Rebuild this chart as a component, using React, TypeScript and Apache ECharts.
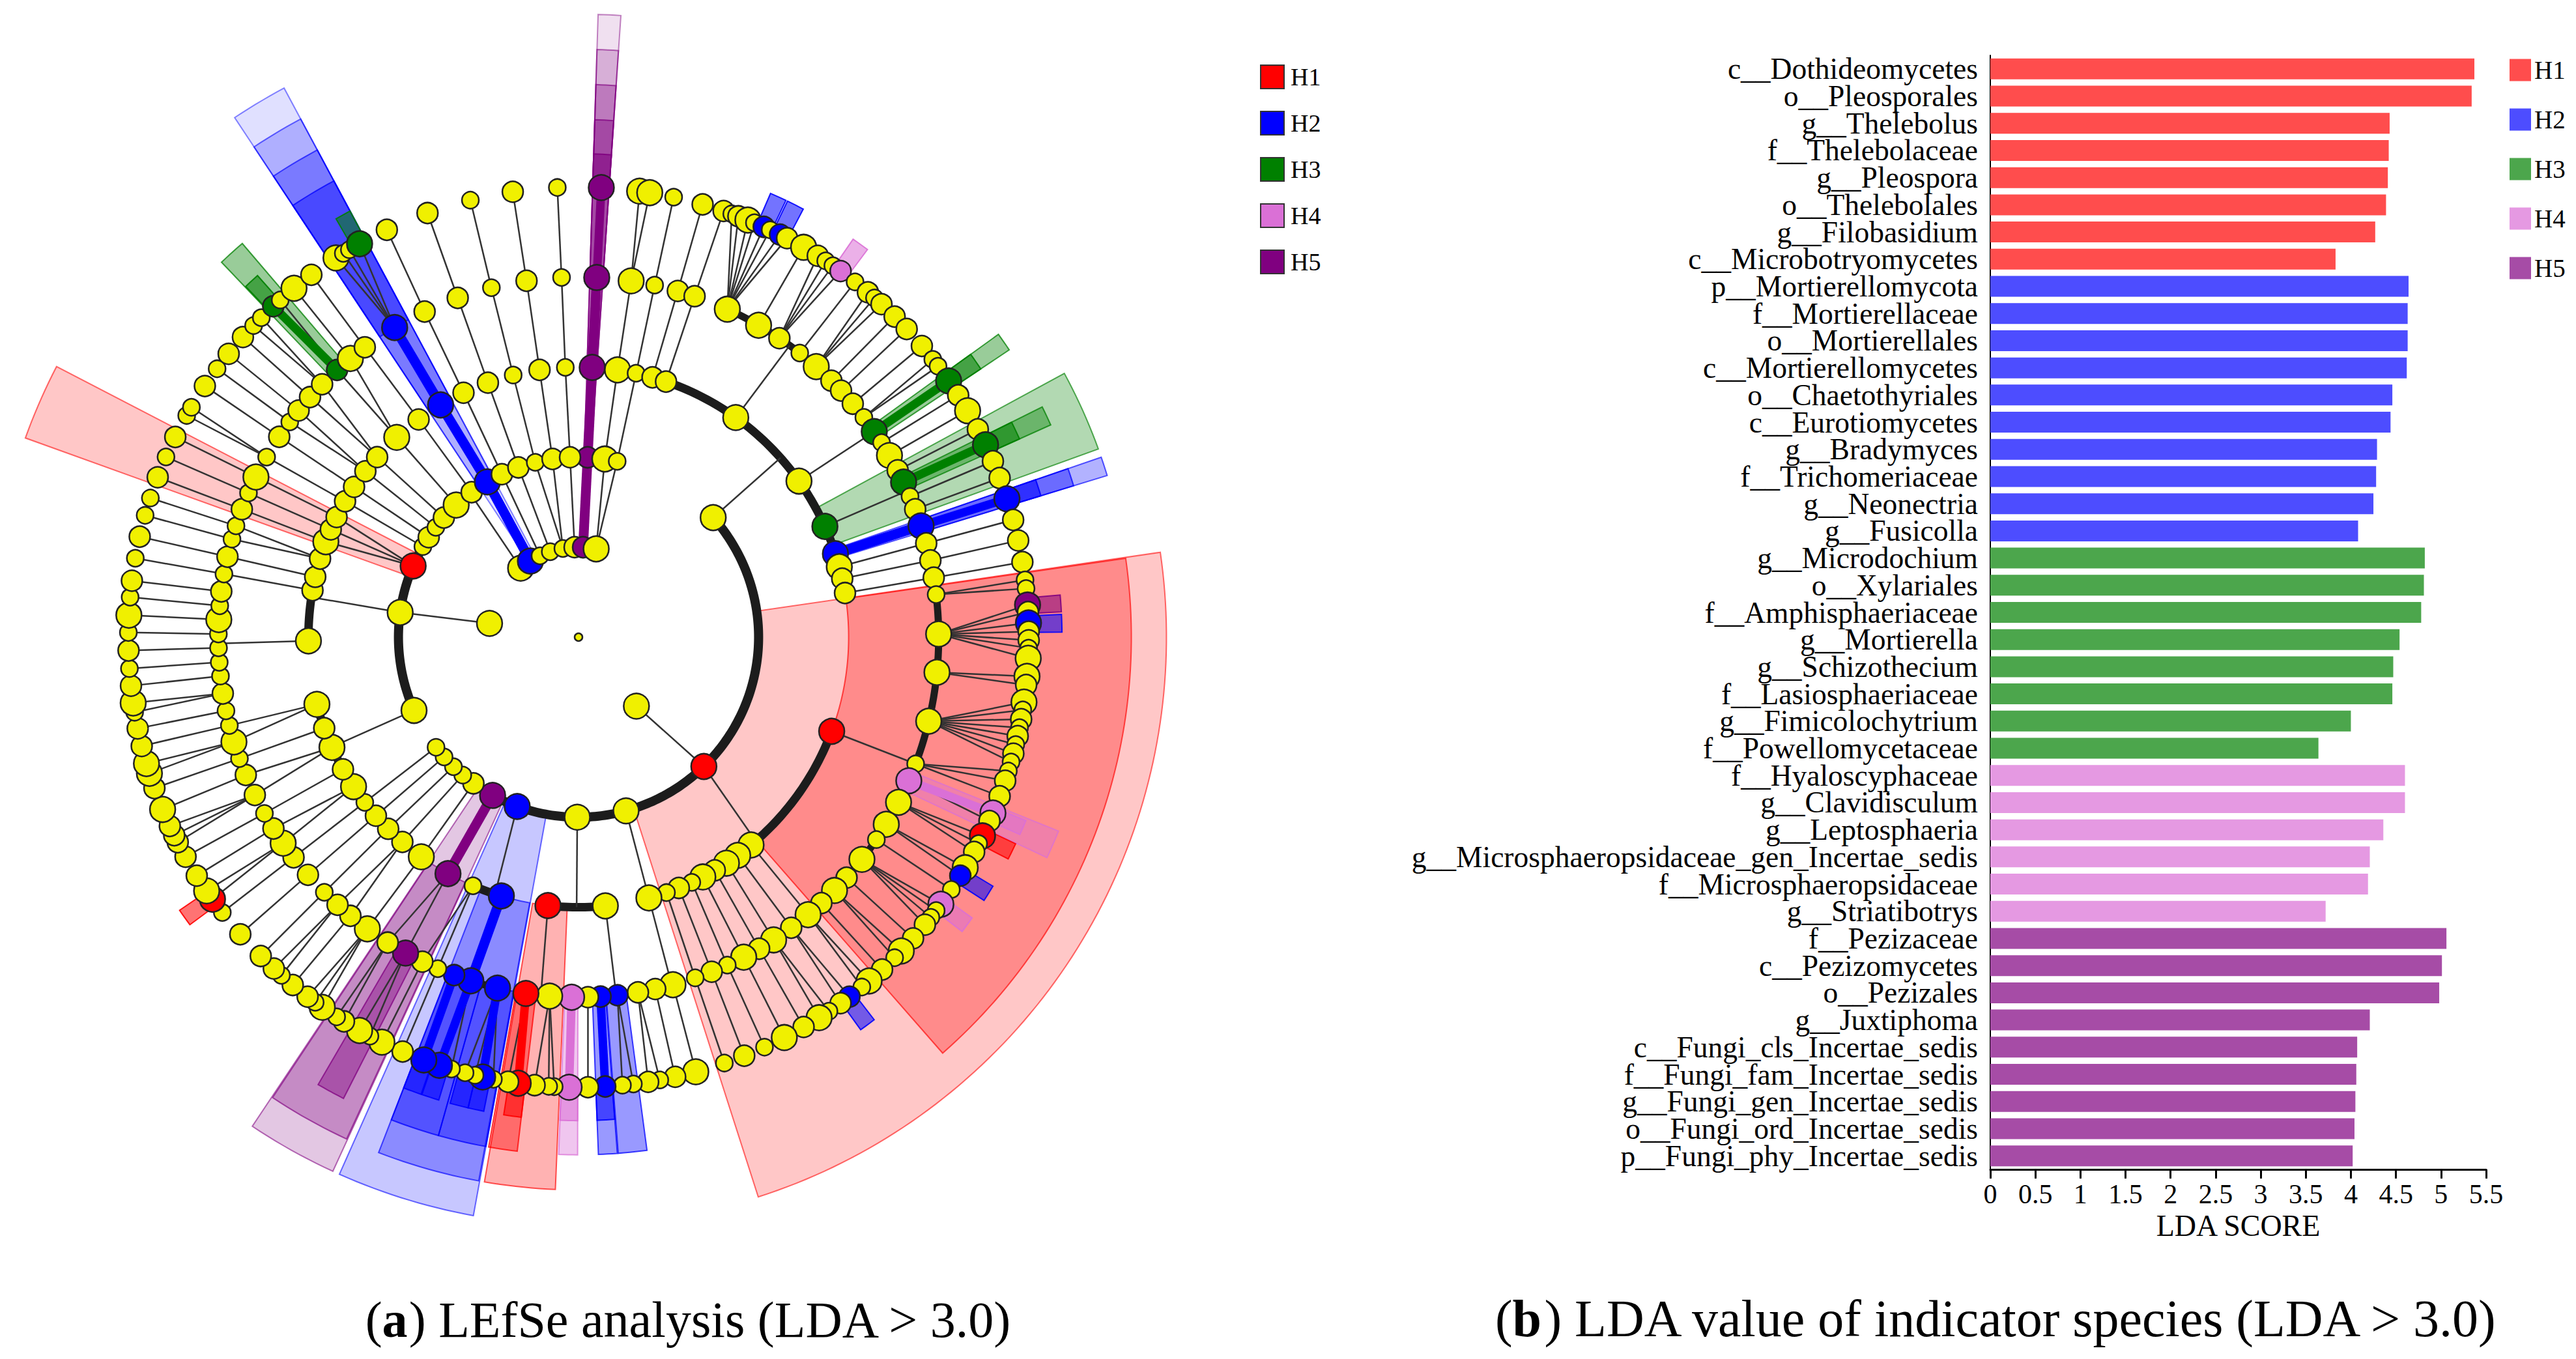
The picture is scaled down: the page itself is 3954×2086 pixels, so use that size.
import React, { useEffect, useRef } from "react";
import * as echarts from "echarts";

// ---------- Bar chart data ----------
const h1Labels = ["c__Dothideomycetes","o__Pleosporales","g__Thelebolus","f__Thelebolaceae","g__Pleospora","o__Thelebolales","g__Filobasidium","c__Microbotryomycetes"];
const h1Values = [5.37,5.34,4.43,4.42,4.41,4.39,4.27,3.83];
const h2Labels = ["p__Mortierellomycota","f__Mortierellaceae","o__Mortierellales","c__Mortierellomycetes","o__Chaetothyriales","c__Eurotiomycetes","g__Bradymyces","f__Trichomeriaceae","g__Neonectria","g__Fusicolla"];
const h2Values = [4.64,4.63,4.63,4.62,4.46,4.44,4.29,4.28,4.25,4.08];
const h3Labels = ["g__Microdochium","o__Xylariales","f__Amphisphaeriaceae","g__Mortierella","g__Schizothecium","f__Lasiosphaeriaceae","g__Fimicolochytrium","f__Powellomycetaceae"];
const h3Values = [4.82,4.81,4.78,4.54,4.47,4.46,4.0,3.64];
const h4Labels = ["f__Hyaloscyphaceae","g__Clavidisculum","g__Leptosphaeria","g__Microsphaeropsidaceae_gen_Incertae_sedis","f__Microsphaeropsidaceae","g__Striatibotrys"];
const h4Values = [4.6,4.6,4.36,4.21,4.19,3.72];
const h5Labels = ["f__Pezizaceae","c__Pezizomycetes","o__Pezizales","g__Juxtiphoma","c__Fungi_cls_Incertae_sedis","f__Fungi_fam_Incertae_sedis","g__Fungi_gen_Incertae_sedis","o__Fungi_ord_Incertae_sedis","p__Fungi_phy_Incertae_sedis"];
const h5Values = [5.06,5.01,4.98,4.21,4.07,4.06,4.05,4.04,4.02];
const groupNames = ["H1","H2","H3","H4","H5"];

// ---------- Cladogram data: [angle clockwise from north, abundance class, group (0 = none), optional parent angle] ----------
const rootNode = [[0, 0, 0]];
const ring1 = [[320,3],[327.7,3,2],[334.7,1],[341.7,1],[350,1],[357.5,2],[2.9,2,5],[11.3,3],[140,3],[278.8,3]];
const ring2 = [[2.9,2,5],[8.4,3],[12.4,1],[48.4,3],[135.9,3,1],[164.7,3],[180.4,3],[199.9,3,2],[208.5,3,5],[215.7,2],[220,1],[224,1],[228.3,1],[232.3,1],[246,3],[277.9,3],[293.3,3,1],[300.2,1],[303.7,2],[307.6,1],[311.6,2],[317.2,3],[323.6,2],[329.6,3,2],[334.8,2],[340.5,2],[346.1,1],[351.7,2],[357.3,2]];
const ring3 = [[2.9,3,5],[8.3,3],[12.3,1],[15.9,2],[18.9,2],[35.6,3],[54.7,3],[65.8,3,3],[72,3,2],[74.9,3],[77.5,2],[80.6,2],[110.4,3,1],[140.3,3],[143.9,3],[146.8,3],[149.7,2],[152.6,3],[155.2,1],[158.2,2],[161,1],[164.9,3],[174.3,3],[186.5,3,1],[196.6,3,2],[203,1],[208.9,3,5],[215.6,3],[220.7,2],[224.8,2],[228.6,2],[232.3,1],[236.4,3],[240.7,2],[245.9,3],[250.3,2],[255.6,3],[269.2,3],[280,2],[282.9,2],[286.9,2],[290.7,3],[293.5,2],[296.4,2],[300.2,2],[303.8,2],[307.9,2],[311.8,2],[317.7,3],[323.7,2],[329.3,3,2],[334.8,2],[340.4,2],[346,1],[351.7,2],[357.2,1]];
const ring4 = [[2.9,3,5],[8.4,3],[12.2,1],[16,2],[18.8,2],[24.4,3],[30,3],[33.9,2],[37.9,1],[41.3,3],[44.6,2],[46.8,2],[49.6,2],[52.4,1],[55.2,3,3],[57.3,1],[59.7,3],[62.4,2],[64.5,3,3],[67,1],[69.2,2],[72,3,2],[74.9,2],[77.7,2],[80.5,2],[83.2,1],[89.5,3],[95.6,3],[103.5,3],[110.6,1],[113.5,3,4],[117.3,3],[121.3,3],[124.2,1],[128.1,3],[131.9,2],[134.7,3],[137.6,2],[140.4,3],[143.8,2],[147.2,3],[149.9,2],[152.7,3],[155.6,1],[158.3,2],[161.1,1],[164.8,3],[167.7,2],[170.5,2],[173.8,2,2],[176.5,2,2],[178.5,2],[181.1,3,4],[184.6,3],[188.4,3,1],[193,3,2],[197.4,3,2],[200.2,2,2],[203,1],[205.7,2],[208.7,3,5],[212,2],[215.9,3],[219.3,2],[222,2],[224.9,1],[228.7,2],[232.3,2],[235.1,3],[237.9,2],[240.7,1],[244,2],[247.5,2],[250.3,1],[253.1,3],[255.8,1],[258.2,1],[261,2],[263.8,1],[266,1],[268.3,1],[270.5,1],[272.8,3],[275,1],[277.3,2],[280.1,1],[282.9,2],[285.8,1],[288,1],[290.8,2],[293.6,1],[296.4,3],[300,1],[303.8,2],[306.7,1],[309,2],[311.8,2],[314.6,2],[317.9,2,3],[320.7,3],[323.6,2],[329.3,3,2],[334.7,2],[340.4,2],[346,1],[351.7,2],[357.3,1]];
const ring5 = [[2.9,3,5],[7.8,3],[9.1,3],[12.2,1],[16,2],[18.8,2],[19.9,1,0,24.4],[20.8,2,0,24.4],[22.1,3,0,24.4],[23,1],[24.3,2,2],[25.2,1],[26.6,2,2],[27.6,2,0,24.4],[30,3],[32.1,2],[33.3,1],[34.4,1],[35.6,2,4],[37.9,1],[40,2],[41.1,1],[42.3,2],[44.6,2],[46.8,2],[49.7,2],[51.9,1],[53,1],[55.3,3,3],[57.5,2],[59.8,3],[62.5,2],[64.7,3,3],[67,2],[69.3,2],[72.1,3,2],[74.9,2],[77.6,2],[80.4,2],[82.7,1],[83.8,1],[85.9,3,5,89.5],[86.8,2],[88.2,3,2],[89.3,2],[90.4,2],[91.4,1],[92.7,3,0,89.5],[95,3],[96.1,2],[98.3,3,0,103.5],[99.3,1,0,103.5],[100.5,2],[101.6,1],[102.7,2],[103.8,1],[105,2],[106.1,1],[107.3,1],[108.6,2],[110.7,2],[113,3,4],[114.1,2],[116.2,3,1],[117.3,1],[118.5,2],[120.8,3],[122,2,2],[124.1,1],[126.4,3,4],[127.4,1],[128.5,1],[129.7,2],[132,2],[134.2,3],[135.4,1],[137.6,2],[139.8,3],[141,1],[143,2,2],[144.4,2],[146.2,1],[147.7,3],[150,2],[152.8,3],[155.6,1],[158.4,2],[161.1,1],[164.9,3],[167.6,2],[169.6,1],[171.1,2],[173,1],[174.4,1],[176.6,2,2],[178.8,2],[181.2,3,4],[183.1,1],[183.8,1],[185.6,2],[187.7,3,1],[189,2],[190.9,1],[192.3,3,2],[193.3,1],[194.6,1],[196.4,1],[198,3,2],[200.1,3,2],[203,2],[205.9,3],[207.6,1],[209.1,3],[211.4,2],[212.5,1],[214.7,3],[215.8,1],[217,2],[219.4,2],[221.3,1],[222.6,2],[224.9,2],[228.7,2],[232.3,1],[234.4,3,1],[235.7,3],[238,2],[240.8,2],[242.9,2],[243.9,2],[245.2,2],[247.5,3],[250.4,2],[252.4,3],[253.7,3],[256,2],[258.3,2],[260.4,1],[261.6,3],[263.8,2],[266,1],[268.3,2],[270.6,1],[272.8,3],[275.1,1],[277.2,2],[280.1,1],[282.9,2],[285.7,1],[288,1],[290.8,2],[293.6,1],[296.4,2],[299.5,1],[300.7,1],[303.9,2],[306.6,1],[309,2],[311.8,2],[313.8,1],[315.2,1],[317.3,2,3],[318.5,1],[320.8,3],[323.6,2],[327.4,3],[328.5,1],[329.4,1],[330.9,3,3],[334.8,2],[340.4,2],[346.1,1],[351.6,2],[357.3,1]];
const rings = [rootNode, ring1, ring2, ring3, ring4, ring5];

// Sibling arcs: [ring, from angle, to angle, parent angle (ring-1), angle where the parent's branch meets the arc]
const cladeArcs = [
  [2,48.4,232.3,140,135.9],[2,246,293.3,278.8,277.9],[2,293.3,323.6,320,323],
  [3,15.9,81,48.4,48.4],[3,110.4,161,135.9,139],[3,174.3,186.5,180.4,180.4],[3,196.6,203,199.9,198],[3,236.4,255.6,246,246],[3,269.2,286.9,277.9,278.5],
  [4,24.4,52.4,35.6,35.9],[4,55.2,62.4,54.7,55.2],[4,64.5,69.2,65.8,66],[4,83.2,137.6,110.4,110.6],[4,164.8,167.7,164.9,165],[4,170.5,176.5,174.3,174],[4,178.5,188.4,186.5,186],[4,193,200.2,196.6,197.4],[4,258.2,277.3,269.2,269],
];
// Biomarker branches: [group, ring, angle, ring, angle]
const markerBranches = [
  [5,1,2.9,2,2.9],[5,2,2.9,3,2.9],[5,3,2.9,4,2.9],[5,4,2.9,5,2.9],
  [2,1,327.7,2,329.6],[2,2,329.6,3,329.3],[2,3,329.3,4,329.3],
  [3,4,317.9,5,317.3],[3,4,55.2,5,55.3],[3,4,64.5,5,64.7],
  [2,3,72,4,72],[2,4,72,5,72.1],[5,2,208.5,3,208.9],
  [2,3,196.6,4,197.4],[2,4,197.4,5,198],[2,4,200.2,5,200.1],[2,4,193,5,192.3],
  [1,4,188.4,5,187.7],[2,4,176.5,5,176.6],[4,4,181.1,5,181.2],[4,4,113.5,5,113],
];
// Highlight wedges: [group, ring of the clade, start angle, end angle]
const cladeWedges = [
  [1,2,81.7,162.2],[1,3,81.8,138.8],[1,2,289.8,297.4],
  [2,1,326.5,331.8],[2,2,326.5,331.8],[2,3,326.5,331.8],[2,4,326.5,331.8],
  [5,1,1.8,3.9],[5,2,1.8,3.9],[5,3,1.8,3.9],[5,4,1.8,3.9],[5,5,1.8,3.9],
  [3,3,61.5,70.1],[3,4,63.6,65.8],[3,5,63.6,65.8],[3,4,54.2,56.3],[3,5,54.2,56.3],
  [2,3,71,73],[2,4,71,73],[2,5,71,73],
  [2,5,23.4,25.4],[2,5,25.6,27.7],[4,5,34.6,36.7],[3,5,329.9,331.8],
  [3,4,316.4,319.5],[3,5,316.5,318.4],
  [5,5,85,87],[2,5,87.3,89.4],[4,4,112,115.2],[4,5,112.3,114.1],[1,5,115.3,117.3],[2,5,121,123],[4,5,125.5,127.5],[2,5,142.3,144.3],[1,5,233.5,235.6],
  [5,2,204.7,213.7],[5,3,204.8,213.6],[5,4,207,210.2],
  [2,2,190.3,204],[2,3,190.4,201.2],[2,4,195.7,201.2],[2,4,190.3,195.7],[2,5,196.8,198.9],[2,5,199,201.2],[2,5,191.3,193.2],[2,5,193.2,195.4],
  [1,3,182.4,189.8],[1,4,186.8,190],[1,5,186.8,188.9],
  [4,4,180.1,182.2],[4,5,180.1,182.2],[2,4,172.4,175.6],[2,4,175.7,177.8],[2,5,175.7,177.8],
];
// Outer reach of a wedge, in ring units, by clade ring (1..5)
const wedgeReach = [6.92, 6.53, 6.14, 5.75, 5.37];

// ---------- Styling ----------
const SERIF = "Liberation Serif";
const UNIT = 138.2;
const CENTER = [888, 978];
const markerRgb = ["240,240,0","255,0,0","0,0,255","0,128,0","218,112,214","128,0,128"];
const wedgeAlpha = [0.12, 0.22, 0.3, 0.4, 0.55];
const nodeSizes = [12, 26, 32, 39];
const barColors = ["#ff4d4d","#4d4dff","#4ca64c","#e599e2","#a64ca6"];
const legendColors = ["#ff0000","#0000ff","#008000","#da70d6","#800080"];

const circDist = (a: number, b: number) => { const d = Math.abs(a - b) % 360; return Math.min(d, 360 - d); };

function buildBranches() {
  const out: number[][] = [];
  for (let lvl = 2; lvl <= 5; lvl++) {
    for (const n of rings[lvl] as number[][]) {
      const inArc = cladeArcs.some((c) => c[0] === lvl && n[0] >= c[1] && n[0] <= c[2]);
      if (inArc) continue;
      let parent = n[3];
      if (parent === undefined) {
        let best = Infinity;
        for (const p of rings[lvl - 1] as number[][]) {
          const d = circDist(p[0], n[0]);
          if (d < best) { best = d; parent = p[0]; }
        }
      }
      out.push([lvl - 1, parent, lvl, n[0]]);
    }
  }
  for (const c of cladeArcs) out.push([c[0] - 1, c[3], c[0], c[4]]);
  return out;
}

function buildOption(): any {
  const allLabels = [...h1Labels, ...h2Labels, ...h3Labels, ...h4Labels, ...h5Labels];
  const groups = [h1Values, h2Values, h3Values, h4Values, h5Values];
  let offset = 0;
  const barSeries = groups.map((vals, i) => {
    const data = allLabels.map((_, k) => (k >= offset && k < offset + vals.length ? vals[k - offset] : null));
    offset += vals.length;
    return {
      name: groupNames[i], type: "bar", xAxisIndex: 0, yAxisIndex: 0, barWidth: 32, barGap: "-100%",
      itemStyle: { color: barColors[i] }, data, silent: true,
    };
  });

  const nodes: number[][] = [];
  rings.forEach((list: any, lvl) => list.forEach((n: number[]) => nodes.push([lvl, n[0], n[1], n[2] || 0])));
  const branches = buildBranches();

  const arcPoints = (api: any, r: number, a0: number, a1: number) => {
    const n = Math.max(2, Math.ceil(Math.abs(a1 - a0)) + 1);
    const pts: number[][] = [];
    for (let i = 0; i <= n; i++) pts.push(api.coord([r, a0 + ((a1 - a0) * i) / n]));
    return pts;
  };

  const polarCustom = (name: string, data: number[][], renderItem: any, z: number) => ({
    name, type: "custom", coordinateSystem: "polar", polarIndex: 0, silent: true, z, data, renderItem,
  });

  return {
    animation: false,
    backgroundColor: "#ffffff",
    title: [
      {
        text: "({b|a}) LEfSe analysis (LDA > 3.0)", left: 1052, top: 1981, textAlign: "center",
        textStyle: { fontFamily: SERIF, fontSize: 78, fontWeight: "normal", color: "#000",
          rich: { b: { fontFamily: SERIF, fontSize: 78, fontWeight: "bold", color: "#000" } } },
      },
      {
        text: "({b|b}) LDA value of indicator species (LDA > 3.0)", left: 3060, top: 1979, textAlign: "center",
        textStyle: { fontFamily: SERIF, fontSize: 80, fontWeight: "normal", color: "#000",
          rich: { b: { fontFamily: SERIF, fontSize: 80, fontWeight: "bold", color: "#000" } } },
      },
    ],
    legend: [
      {
        orient: "vertical", left: 1929, top: 94, itemWidth: 36, itemHeight: 36, itemGap: 33, icon: "rect", selectedMode: false,
        textStyle: { fontFamily: SERIF, fontSize: 38, color: "#000", padding: [0, 0, 0, 5] },
        data: groupNames.map((name, i) => ({ name, itemStyle: { color: legendColors[i], borderColor: "#333", borderWidth: 2 } })),
      },
      {
        orient: "vertical", left: 3847, top: 83, itemWidth: 33, itemHeight: 34, itemGap: 37, icon: "rect", selectedMode: false,
        textStyle: { fontFamily: SERIF, fontSize: 39, color: "#000" },
        data: groupNames.map((name) => ({ name })),
      },
    ],
    grid: { left: 3055, top: 85, width: 761, height: 1710, containLabel: false },
    xAxis: {
      type: "value", min: 0, max: 5.5, interval: 0.5, splitLine: { show: false },
      axisLine: { show: true, lineStyle: { color: "#000", width: 3 } },
      axisTick: { show: true, length: 14, lineStyle: { color: "#000", width: 3 } },
      axisLabel: { fontFamily: SERIF, fontSize: 42, color: "#000", margin: 17 },
      name: "LDA SCORE", nameLocation: "middle", nameGap: 50,
      nameTextStyle: { fontFamily: SERIF, fontSize: 46, color: "#000" },
    },
    yAxis: {
      type: "category", data: allLabels, inverse: true,
      axisLine: { show: true, lineStyle: { color: "#000", width: 2 } }, axisTick: { show: false },
      axisLabel: { fontFamily: SERIF, fontSize: 45.5, color: "#000", margin: 19, interval: 0 },
    },
    polar: { center: CENTER, radius: 8 * UNIT },
    radiusAxis: { type: "value", min: 0, max: 8, show: false },
    angleAxis: { type: "value", min: 0, max: 360, startAngle: 90, clockwise: true, show: false },
    series: [
      ...barSeries,
      polarCustom("wedges", cladeWedges, (params: any, api: any) => {
        const [g, lvl, a0, a1] = cladeWedges[params.dataIndex];
        const outer = arcPoints(api, wedgeReach[lvl - 1], a0, a1);
        const inner = arcPoints(api, lvl, a1, a0);
        const rgb = markerRgb[g];
        return { type: "polygon", shape: { points: [...outer, ...inner] },
          style: { fill: `rgba(${rgb},${wedgeAlpha[lvl - 1]})`, stroke: `rgba(${rgb},${Math.min(1, wedgeAlpha[lvl - 1] + 0.35)})`, lineWidth: 2 } };
      }, 2),
      polarCustom("arcs", cladeArcs, (params: any, api: any) => {
        const [lvl, a0, a1] = cladeArcs[params.dataIndex];
        return { type: "polyline", shape: { points: arcPoints(api, lvl, a0, a1) },
          style: { fill: "none", stroke: "#1c1c1c", lineWidth: lvl === 2 ? 14 : lvl === 3 ? 13 : 11 } };
      }, 3),
      polarCustom("branches", branches, (params: any, api: any) => {
        const [r0, a0, r1, a1] = branches[params.dataIndex];
        const p = api.coord([r0, a0]);
        const q = api.coord([r1, a1]);
        return { type: "line", shape: { x1: p[0], y1: p[1], x2: q[0], y2: q[1] },
          style: { stroke: "#333333", lineWidth: 2.5 } };
      }, 4),
      polarCustom("markers", markerBranches, (params: any, api: any) => {
        const [g, r0, a0, r1, a1] = markerBranches[params.dataIndex];
        const p = api.coord([r0, a0]);
        const q = api.coord([r1, a1]);
        return { type: "line", shape: { x1: p[0], y1: p[1], x2: q[0], y2: q[1] },
          style: { stroke: `rgb(${markerRgb[g]})`, lineWidth: r0 >= 4 ? 13 : 15 } };
      }, 5),
      {
        name: "nodes", type: "scatter", coordinateSystem: "polar", polarIndex: 0, z: 6, silent: true, clip: false,
        data: nodes,
        encode: { radius: 0, angle: 1 },
        symbolSize: (v: number[]) => nodeSizes[v[2]],
        itemStyle: { color: (p: any) => `rgb(${markerRgb[p.value[3]]})`, borderColor: "#222222", borderWidth: 2.5, opacity: 1 },
      },
    ],
  };
}

export default function App() {
  const ref = useRef<HTMLDivElement>(null);
  useEffect(() => {
    const chart = echarts.init(ref.current as HTMLDivElement, undefined, { renderer: "svg" });
    chart.setOption(buildOption());
    return () => chart.dispose();
  }, []);
  return <div ref={ref} style={{ position: "fixed", left: 0, top: 0, width: 3954, height: 2086, background: "#fff" }} />;
}
